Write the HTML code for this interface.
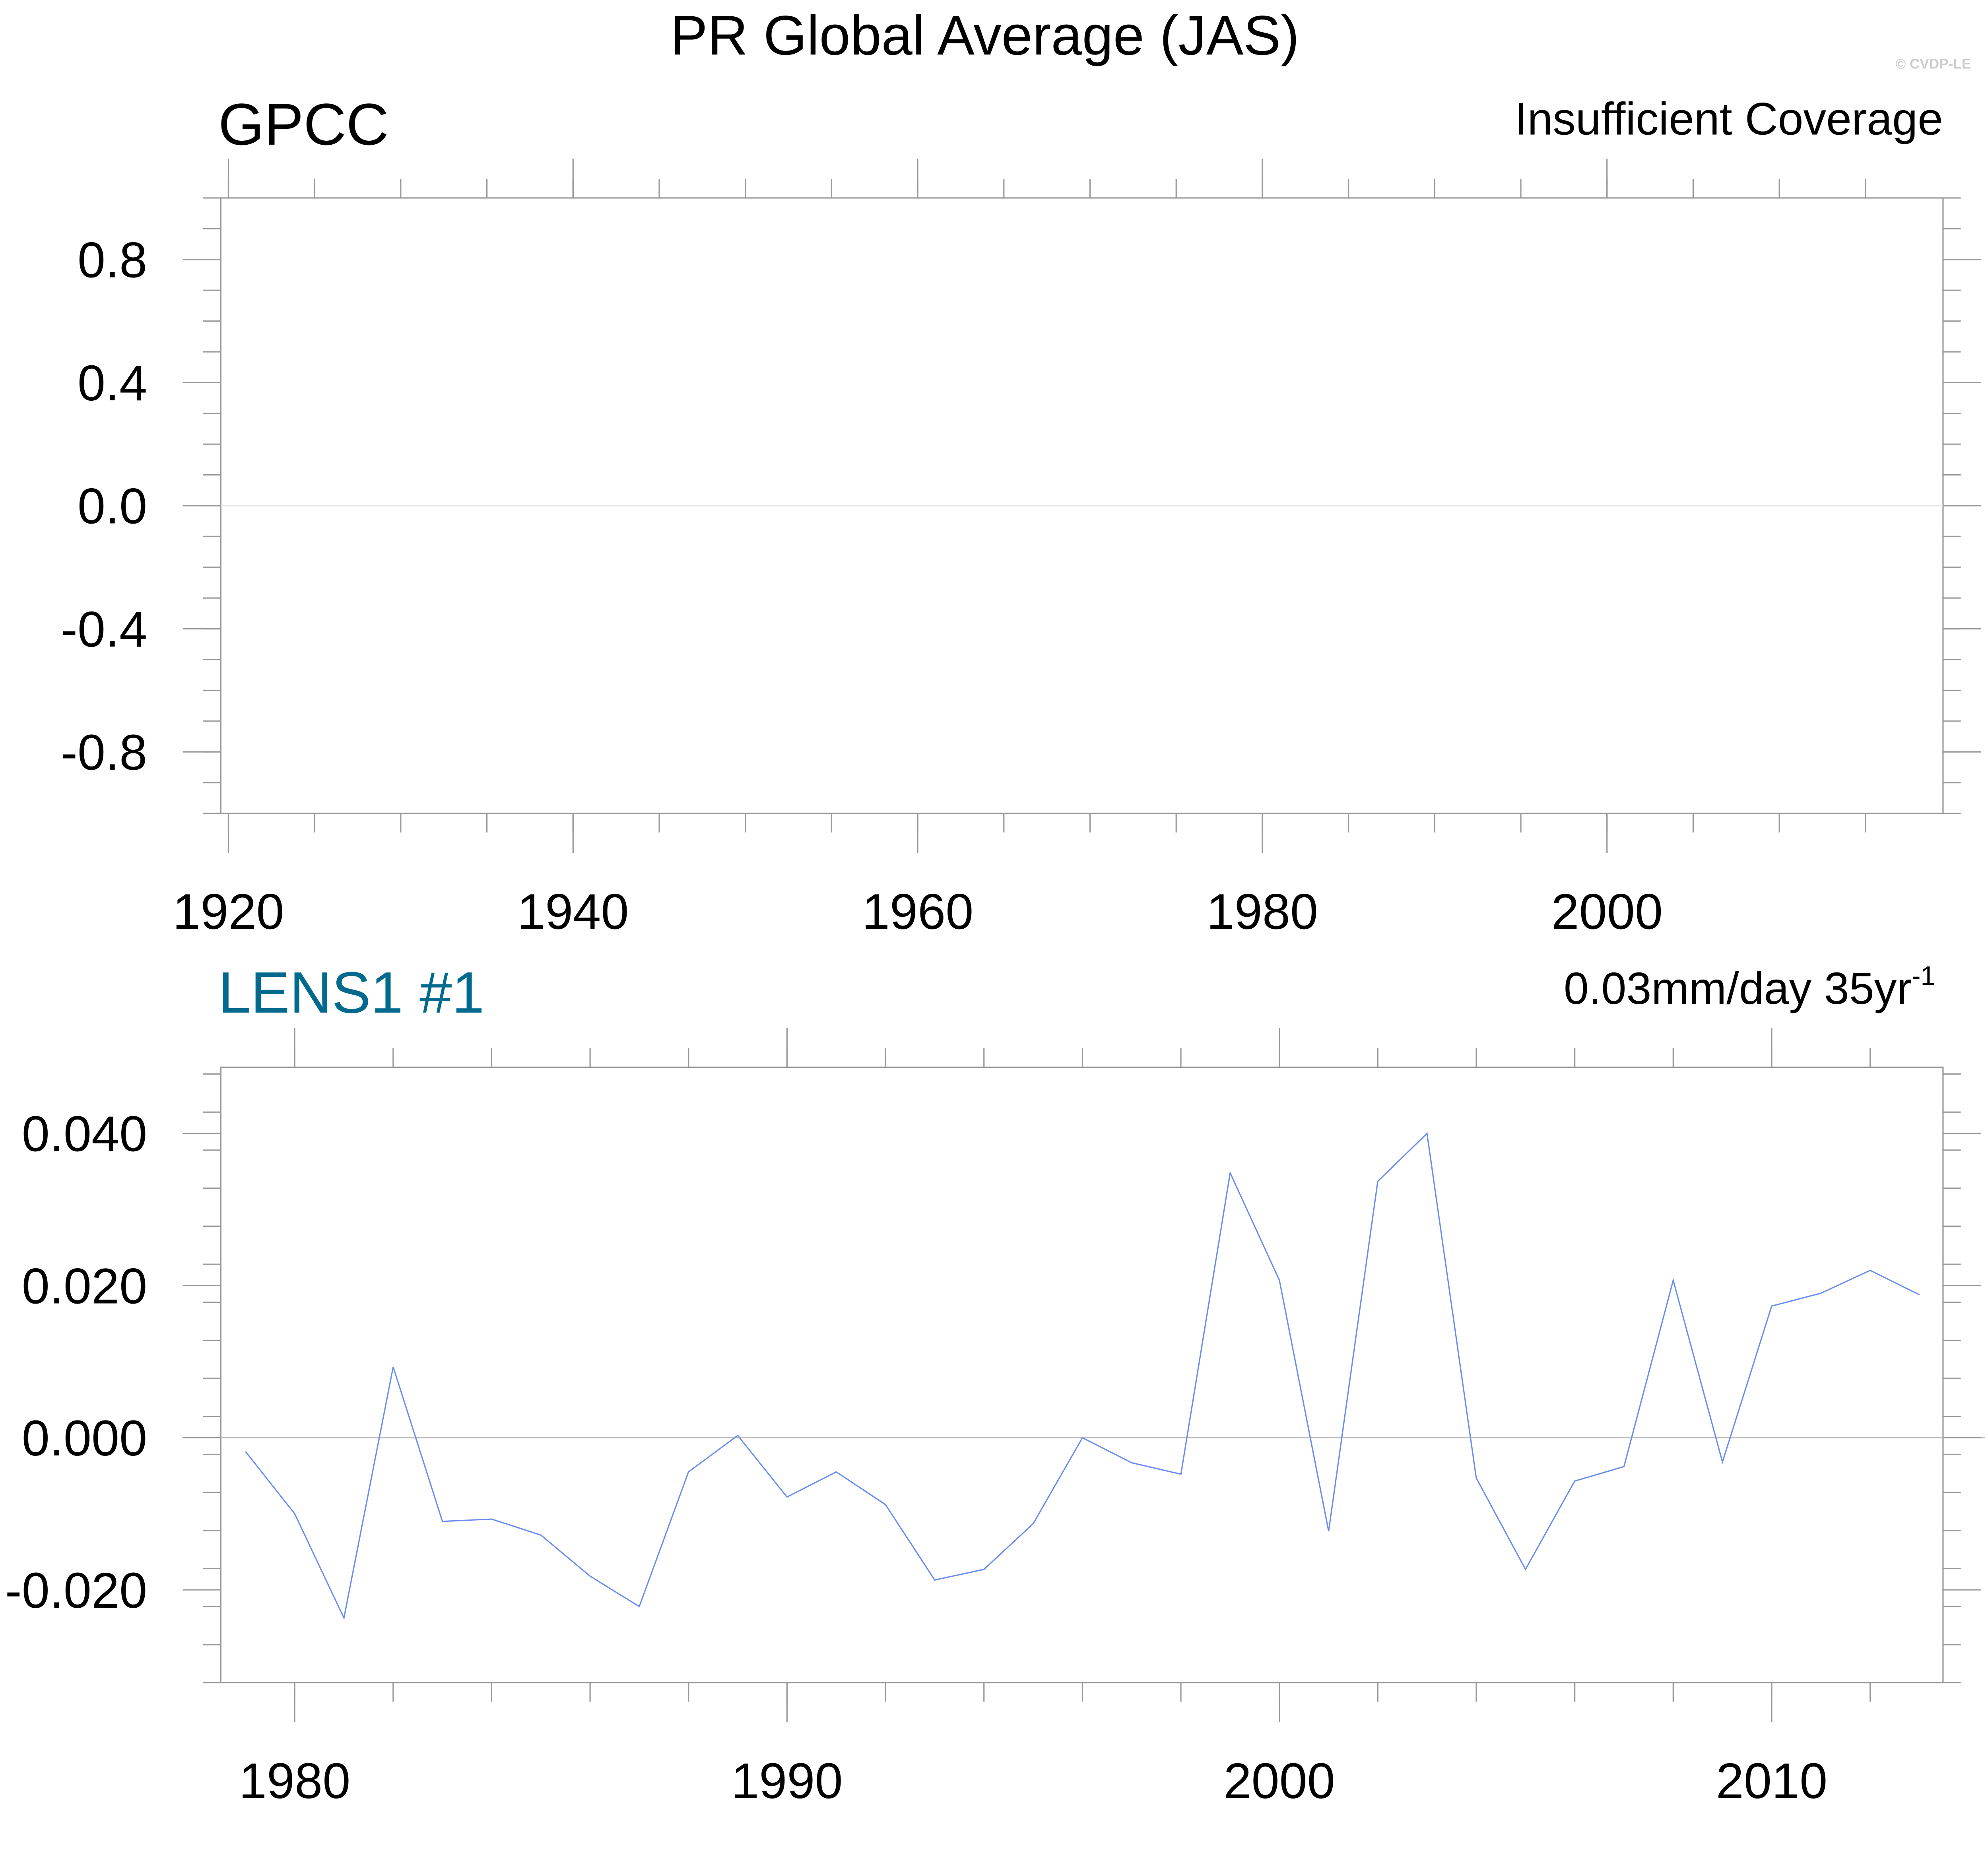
<!DOCTYPE html>
<html><head><meta charset="utf-8"><style>
html,body{margin:0;padding:0;background:#fff;overflow:hidden;width:5133px;height:4666px}
svg{display:block}
text{font-family:"Liberation Sans",sans-serif}
</style></head><body>
<svg id="chart" width="5133" height="4666" viewBox="0 0 1607.8 1461.8" preserveAspectRatio="xMinYMin meet" xmlns="http://www.w3.org/2000/svg">
<text x="776" y="43" font-size="44" text-anchor="middle">PR Global Average (JAS)</text>
<text x="1553" y="54" font-size="11" font-weight="bold" fill="#ccc" text-anchor="end">© CVDP-LE</text>
<text x="172" y="114" font-size="46.5">GPCC</text>
<text x="1531" y="106" font-size="36" text-anchor="end">Insufficient Coverage</text>
<text x="172" y="798" font-size="46" fill="#006a8e">LENS1 #1</text>
<text x="1525" y="791" font-size="35.5" text-anchor="end">0.03mm/day 35yr<tspan font-size="21" dy="-15">-1</tspan></text>
<g id="topPanel"></g>
<g id="botPanel"></g>
</svg>
<script>
const years = [1979,1980,1981,1982,1983,1984,1985,1986,1987,1988,1989,1990,1991,1992,1993,1994,1995,1996,1997,1998,1999,2000,2001,2002,2003,2004,2005,2006,2007,2008,2009,2010,2011,2012,2013];
const prValues = [-0.0018,-0.010,-0.0237,0.0093,-0.011,-0.0107,-0.0128,-0.0182,-0.0222,-0.0045,0.0003,-0.0078,-0.0045,-0.0088,-0.0187,-0.0173,-0.0113,0.0,-0.0033,-0.0048,0.0348,0.0207,-0.0123,0.0337,0.040,-0.0053,-0.0173,-0.0057,-0.0038,0.0207,-0.0032,0.0173,0.019,0.022,0.0188];
const topYTicks = [0.8,0.4,0.0,-0.4,-0.8];
const topYLabels = ["0.8","0.4","0.0","-0.4","-0.8"];
const topXTicks = [1920,1940,1960,1980,2000];
const botYTicks = [0.04,0.02,0.0,-0.02];
const botYLabels = ["0.040","0.020","0.000","-0.020"];
const botXTicks = [1980,1990,2000,2010];

const NS="http://www.w3.org/2000/svg";
function mk(parent,tag,attrs){const e=document.createElementNS(NS,tag);for(const k in attrs)e.setAttribute(k,attrs[k]);parent.appendChild(e);return e;}

function panel(g,cfg){
  const L=174,R=1531,T=cfg.top,B=cfg.top+485;
  const sx=v=>L+(v-cfg.x0)/(cfg.x1-cfg.x0)*(R-L);
  const sy=v=>B-(v-cfg.y0)/(cfg.y1-cfg.y0)*(B-T);
  const box=mk(g,'rect',{x:L,y:T,width:R-L,height:B-T,fill:'none',stroke:'#999','stroke-width':1});
  
  
  const z=mk(g,'line',{x1:L,x2:cfg.zeroFull?1564:R,y1:sy(0),y2:sy(0),stroke:cfg.zeroColor,'stroke-width':1});
  
  
  for(let v=cfg.y0;v<=cfg.y1+1e-9;v+=cfg.yMinor){
    const y=sy(v);
    mk(g,'line',{x1:L-14,x2:L,y1:y,y2:y,stroke:'#999','stroke-width':1});
    mk(g,'line',{x1:R,x2:R+14,y1:y,y2:y,stroke:'#999','stroke-width':1});
  }
  cfg.yTicks.forEach((v,i)=>{
    const y=sy(v);
    mk(g,'line',{x1:L-30,x2:L,y1:y,y2:y,stroke:'#999','stroke-width':1});
    mk(g,'line',{x1:R,x2:R+30,y1:y,y2:y,stroke:'#999','stroke-width':1});
    const t=mk(g,'text',{x:cfg.yLabelX,y:y+14,'font-size':39.5,'text-anchor':'end'});
    t.textContent=cfg.yLabels[i];
    
    
  });
  for(let v=Math.ceil(cfg.x0/cfg.xMinor)*cfg.xMinor;v<=cfg.x1;v+=cfg.xMinor){
    const x=sx(v);
    mk(g,'line',{x1:x,x2:x,y1:B,y2:B+15,stroke:'#999','stroke-width':1});
    mk(g,'line',{x1:x,x2:x,y1:T-15,y2:T,stroke:'#999','stroke-width':1});
  }
  cfg.xTicks.forEach(v=>{
    const x=sx(v);
    mk(g,'line',{x1:x,x2:x,y1:B,y2:B+31,stroke:'#999','stroke-width':1});
    mk(g,'line',{x1:x,x2:x,y1:T-31,y2:T,stroke:'#999','stroke-width':1});
    const t=mk(g,'text',{x:x,y:B+91,'font-size':39.5,'text-anchor':'middle'});
    t.textContent=String(v);
    
    
  });
  return {sx,sy};
}
const topPanelG=document.getElementById('topPanel');
panel(topPanelG,{name:'top',top:156,x0:1919.56,x1:2019.5,y0:-1,y1:1,yMinor:0.1,xMinor:5,yTicks:topYTicks,yLabels:topYLabels,xTicks:topXTicks,yLabelX:116,zeroColor:'#e6e6e6',zeroFull:false});
const botPanelG=document.getElementById('botPanel');
const ax=panel(botPanelG,{name:'bottom',top:841,x0:1978.5,x1:2013.48,y0:-0.0322,y1:0.0487,yMinor:0.005,xMinor:2,yTicks:botYTicks,yLabels:botYLabels,xTicks:botXTicks,yLabelX:116,zeroColor:'#bbb',zeroFull:true});
const pts=years.map((y,i)=>ax.sx(y).toFixed(1)+','+ax.sy(prValues[i]).toFixed(1)).join(' ');
const line=mk(botPanelG,'polyline',{points:pts,fill:'none',stroke:'#6a8cf0','stroke-width':1});


</script>
</body></html>
